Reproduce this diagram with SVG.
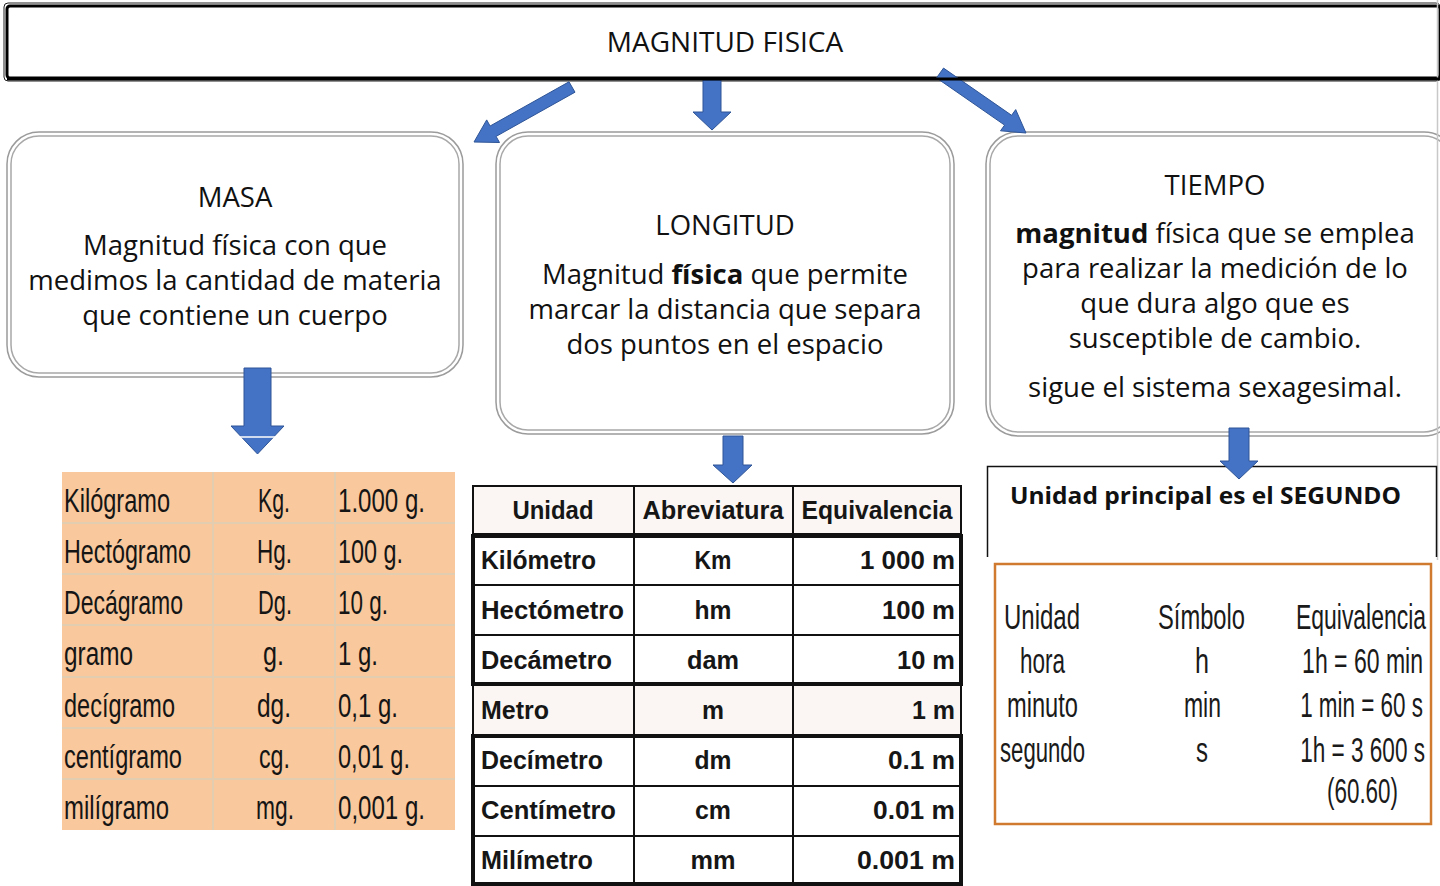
<svg xmlns="http://www.w3.org/2000/svg" width="1440" height="886" viewBox="0 0 1440 886">
<style>
.t{font-family:"Open Sans","Noto Sans","Liberation Sans",sans-serif;font-size:27.5px;fill:#111;text-anchor:middle}
.ttl{font-family:"Open Sans","Noto Sans","Liberation Sans",sans-serif;font-size:28px;fill:#111;text-anchor:middle}
.b{font-weight:bold}
.ob{fill:none;stroke:#9b9b9b;stroke-width:1.5}
.ib{fill:#fff;stroke:#a8a8a8;stroke-width:1.5}
.arr{fill:#4472C4;stroke:#2F5597;stroke-width:1}
.m{font-family:"Liberation Sans Narrow","Liberation Sans",sans-serif;font-size:33px;fill:#151515}
.lg{stroke:#e3cdb1;stroke-width:2}
.L{font-family:"Liberation Sans",Arial,sans-serif;font-weight:bold;font-size:25px;fill:#161616}
.lc{text-anchor:middle}
.lr{text-anchor:end}
.thin{fill:none;stroke:#111;stroke-width:2}
.thick{fill:none;stroke:#111;stroke-width:4}
.T{font-family:"Liberation Sans Narrow","Liberation Sans",sans-serif;font-size:35px;fill:#1a1a1a}
.Tw{font-family:"Liberation Sans",Arial,sans-serif;font-size:35px;fill:#1a1a1a;text-anchor:end}
</style>

<g id="magnitud-fisica">
  <rect x="4" y="3" width="1436" height="78" rx="4" fill="#fff" stroke="#222" stroke-width="1"/>
  <rect x="7" y="6" width="1433" height="72" rx="3" fill="#fff" stroke="#000" stroke-width="3"/>
  <text class="ttl" x="725" y="52">MAGNITUD FISICA</text>
</g>

<g id="masa">
  <rect class="ob" x="7" y="132" width="456" height="245" rx="32"/>
  <rect class="ib" x="11" y="136" width="448" height="237" rx="28"/>
  <text class="t" x="235" y="207">MASA</text>
  <text class="t" x="235" y="255">Magnitud física con que</text>
  <text class="t" x="235" y="290">medimos la cantidad de materia</text>
  <text class="t" x="235" y="325">que contiene un cuerpo</text>
</g>

<g id="longitud">
  <rect class="ob" x="496" y="132" width="458" height="302" rx="32"/>
  <rect class="ib" x="500" y="136" width="450" height="294" rx="28"/>
  <text class="t" x="725" y="235">LONGITUD</text>
  <text class="t" x="725" y="284">Magnitud <tspan class="b">física</tspan> que permite</text>
  <text class="t" x="725" y="319">marcar la distancia que separa</text>
  <text class="t" x="725" y="354">dos puntos en el espacio</text>
</g>

<g id="tiempo">
  <rect class="ob" x="986" y="132" width="470" height="304" rx="32"/>
  <rect class="ib" x="990" y="136" width="462" height="296" rx="28"/>
  <text class="t" x="1215" y="195">TIEMPO</text>
  <text class="t" x="1215" y="243"><tspan class="b">magnitud</tspan> física que se emplea</text>
  <text class="t" x="1215" y="278">para realizar la medición de lo</text>
  <text class="t" x="1215" y="313">que dura algo que es</text>
  <text class="t" x="1215" y="348">susceptible de cambio.</text>
  <text class="t" x="1215" y="397">sigue el sistema sexagesimal.</text>
</g>

<line x1="1437.5" y1="0" x2="1437.5" y2="560" stroke="#c8c8c8" stroke-width="1.5"/>

<g id="tabla-masa">
  <rect x="62" y="472" width="393" height="358" fill="#F9C89C"/>
  <line class="lg" x1="62" y1="523" x2="455" y2="523"/>
  <line class="lg" x1="62" y1="574" x2="455" y2="574"/>
  <line class="lg" x1="62" y1="625" x2="455" y2="625"/>
  <line class="lg" x1="62" y1="677" x2="455" y2="677"/>
  <line class="lg" x1="62" y1="728" x2="455" y2="728"/>
  <line class="lg" x1="62" y1="779" x2="455" y2="779"/>
  <line class="lg" x1="213" y1="472" x2="213" y2="830"/>
  <line class="lg" x1="335" y1="472" x2="335" y2="830"/>
  <text class="m" x="64" y="512" textLength="106" lengthAdjust="spacingAndGlyphs">Kilógramo</text>
  <text class="m" x="64" y="563" textLength="127" lengthAdjust="spacingAndGlyphs">Hectógramo</text>
  <text class="m" x="64" y="614" textLength="119" lengthAdjust="spacingAndGlyphs">Decágramo</text>
  <text class="m" x="64" y="665" textLength="69" lengthAdjust="spacingAndGlyphs">gramo</text>
  <text class="m" x="64" y="717" textLength="111" lengthAdjust="spacingAndGlyphs">decígramo</text>
  <text class="m" x="64" y="768" textLength="118" lengthAdjust="spacingAndGlyphs">centígramo</text>
  <text class="m" x="64" y="819" textLength="105" lengthAdjust="spacingAndGlyphs">milígramo</text>
  <text class="m" x="258" y="512" textLength="32" lengthAdjust="spacingAndGlyphs">Kg.</text>
  <text class="m" x="257" y="563" textLength="35" lengthAdjust="spacingAndGlyphs">Hg.</text>
  <text class="m" x="258" y="614" textLength="34" lengthAdjust="spacingAndGlyphs">Dg.</text>
  <text class="m" x="263" y="665" textLength="21" lengthAdjust="spacingAndGlyphs">g.</text>
  <text class="m" x="257" y="717" textLength="34" lengthAdjust="spacingAndGlyphs">dg.</text>
  <text class="m" x="259" y="768" textLength="31" lengthAdjust="spacingAndGlyphs">cg.</text>
  <text class="m" x="256" y="819" textLength="38" lengthAdjust="spacingAndGlyphs">mg.</text>
  <text class="m" x="338" y="512" textLength="87" lengthAdjust="spacingAndGlyphs">1.000 g.</text>
  <text class="m" x="338" y="563" textLength="65" lengthAdjust="spacingAndGlyphs">100 g.</text>
  <text class="m" x="338" y="614" textLength="50" lengthAdjust="spacingAndGlyphs">10 g.</text>
  <text class="m" x="338" y="665" textLength="40" lengthAdjust="spacingAndGlyphs">1 g.</text>
  <text class="m" x="338" y="717" textLength="60" lengthAdjust="spacingAndGlyphs">0,1 g.</text>
  <text class="m" x="338" y="768" textLength="72" lengthAdjust="spacingAndGlyphs">0,01 g.</text>
  <text class="m" x="338" y="819" textLength="87" lengthAdjust="spacingAndGlyphs">0,001 g.</text>
</g>

<g id="tabla-longitud">
  <rect x="472" y="485" width="490" height="49" fill="#FBF6F3"/>
  <rect x="472" y="535" width="490" height="150" fill="#fff"/>
  <rect x="472" y="685" width="490" height="50" fill="#FBF6F3"/>
  <rect x="472" y="735" width="490" height="149" fill="#fff"/>
  <rect class="thin" x="473" y="486" width="488" height="48"/>
  <rect class="thick" x="473" y="536" width="488" height="148"/>
  <rect class="thin" x="473" y="685" width="488" height="50"/>
  <rect class="thick" x="473" y="736" width="488" height="148"/>
  <line class="thin" x1="473" y1="585" x2="961" y2="585"/>
  <line class="thin" x1="473" y1="635" x2="961" y2="635"/>
  <line class="thin" x1="473" y1="786" x2="961" y2="786"/>
  <line class="thin" x1="473" y1="836" x2="961" y2="836"/>
  <line class="thin" x1="634" y1="486" x2="634" y2="884"/>
  <line class="thin" x1="793" y1="486" x2="793" y2="884"/>
  <text class="L lc" x="553" y="519" textLength="81" lengthAdjust="spacingAndGlyphs">Unidad</text>
  <text class="L lc" x="713" y="519" textLength="141" lengthAdjust="spacingAndGlyphs">Abreviatura</text>
  <text class="L lc" x="877" y="519" textLength="151" lengthAdjust="spacingAndGlyphs">Equivalencia</text>
  <text class="L" x="481" y="569" textLength="115" lengthAdjust="spacingAndGlyphs">Kilómetro</text>
  <text class="L" x="481" y="619" textLength="143" lengthAdjust="spacingAndGlyphs">Hectómetro</text>
  <text class="L" x="481" y="669" textLength="131" lengthAdjust="spacingAndGlyphs">Decámetro</text>
  <text class="L" x="481" y="719" textLength="68" lengthAdjust="spacingAndGlyphs">Metro</text>
  <text class="L" x="481" y="769" textLength="122" lengthAdjust="spacingAndGlyphs">Decímetro</text>
  <text class="L" x="481" y="819" textLength="135" lengthAdjust="spacingAndGlyphs">Centímetro</text>
  <text class="L" x="481" y="869" textLength="112" lengthAdjust="spacingAndGlyphs">Milímetro</text>
  <text class="L lc" x="713" y="569" textLength="37" lengthAdjust="spacingAndGlyphs">Km</text>
  <text class="L lc" x="713" y="619" textLength="37" lengthAdjust="spacingAndGlyphs">hm</text>
  <text class="L lc" x="713" y="669" textLength="52" lengthAdjust="spacingAndGlyphs">dam</text>
  <text class="L lc" x="713" y="719" textLength="22" lengthAdjust="spacingAndGlyphs">m</text>
  <text class="L lc" x="713" y="769" textLength="37" lengthAdjust="spacingAndGlyphs">dm</text>
  <text class="L lc" x="713" y="819" textLength="36" lengthAdjust="spacingAndGlyphs">cm</text>
  <text class="L lc" x="713" y="869" textLength="45" lengthAdjust="spacingAndGlyphs">mm</text>
  <text class="L lr" x="955" y="569" textLength="95" lengthAdjust="spacingAndGlyphs">1 000 m</text>
  <text class="L lr" x="955" y="619" textLength="73" lengthAdjust="spacingAndGlyphs">100 m</text>
  <text class="L lr" x="955" y="669" textLength="58" lengthAdjust="spacingAndGlyphs">10 m</text>
  <text class="L lr" x="955" y="719" textLength="43" lengthAdjust="spacingAndGlyphs">1 m</text>
  <text class="L lr" x="955" y="769" textLength="67" lengthAdjust="spacingAndGlyphs">0.1 m</text>
  <text class="L lr" x="955" y="819" textLength="82" lengthAdjust="spacingAndGlyphs">0.01 m</text>
  <text class="L lr" x="955" y="869" textLength="98" lengthAdjust="spacingAndGlyphs">0.001 m</text>
</g>

<g id="segundo">
  <path d="M987.5 557 V466.5 H1436.5 V557" fill="none" stroke="#111" stroke-width="1.5"/>
  <text x="1010" y="504" font-family="'Open Sans','Noto Sans','Liberation Sans',sans-serif" font-weight="bold" font-size="23" fill="#111" textLength="391" lengthAdjust="spacingAndGlyphs">Unidad principal es el SEGUNDO</text>
</g>

<g id="tabla-tiempo">
  <rect x="995" y="564" width="436" height="260" fill="#fff" stroke="#D07A30" stroke-width="2.5"/>
  <text class="T" x="1004" y="629" textLength="76" lengthAdjust="spacingAndGlyphs">Unidad</text>
  <text class="T" x="1158" y="629" textLength="87" lengthAdjust="spacingAndGlyphs">Símbolo</text>
  <text class="Tw" transform="translate(1426 629) scale(0.65 1)" textLength="200" lengthAdjust="spacingAndGlyphs">Equivalencia</text>
  <text class="T" x="1020" y="673" textLength="45" lengthAdjust="spacingAndGlyphs">hora</text>
  <text class="T" x="1007" y="717" textLength="71" lengthAdjust="spacingAndGlyphs">minuto</text>
  <text class="T" x="1000" y="762" textLength="85" lengthAdjust="spacingAndGlyphs">segundo</text>
  <text class="T" x="1195" y="673" textLength="14" lengthAdjust="spacingAndGlyphs">h</text>
  <text class="T" x="1184" y="717" textLength="37" lengthAdjust="spacingAndGlyphs">min</text>
  <text class="T" x="1196" y="762" textLength="12" lengthAdjust="spacingAndGlyphs">s</text>
  <text class="Tw" transform="translate(1423 673) scale(0.65 1)" textLength="186" lengthAdjust="spacingAndGlyphs">1h = 60 min</text>
  <text class="Tw" transform="translate(1423 717) scale(0.65 1)" textLength="189" lengthAdjust="spacingAndGlyphs">1 min = 60 s</text>
  <text class="Tw" transform="translate(1425 762) scale(0.65 1)" textLength="192" lengthAdjust="spacingAndGlyphs">1h = 3 600 s</text>
  <text class="T" x="1327" y="803" textLength="71" lengthAdjust="spacingAndGlyphs">(60.60)</text>
</g>

<g id="connectors">
  <polygon class="arr" points="575,92.2 496.1,136.4 499.5,142.5 474,142 486.7,119.9 490.1,126 569,81.8"/>
  <polygon class="arr" points="703,80 721,80 721,112 731,112 712,130 693,112 703,112"/>
  <polygon class="arr" points="936.5,77.9 1004.6,125.1 1000.5,130.8 1026,133 1015.7,109.6 1011.6,115.3 943.5,68.1"/>
  <line x1="7" y1="79" x2="1440" y2="79" stroke="#000" stroke-width="3"/>
  <polygon class="arr" points="244,368 271,368 271,426 284,426 257.5,454 231,426 244,426"/>
  <line x1="233" y1="437" x2="282" y2="437" stroke="#fff" stroke-width="1.5"/>
  <polygon class="arr" points="723,436 743,436 743,465 752,465 733,483 713,465 723,465"/>
  <polygon class="arr" points="1229,428 1249,428 1249,461 1258,461 1239,479 1220,461 1229,461"/>
</g>
</svg>
